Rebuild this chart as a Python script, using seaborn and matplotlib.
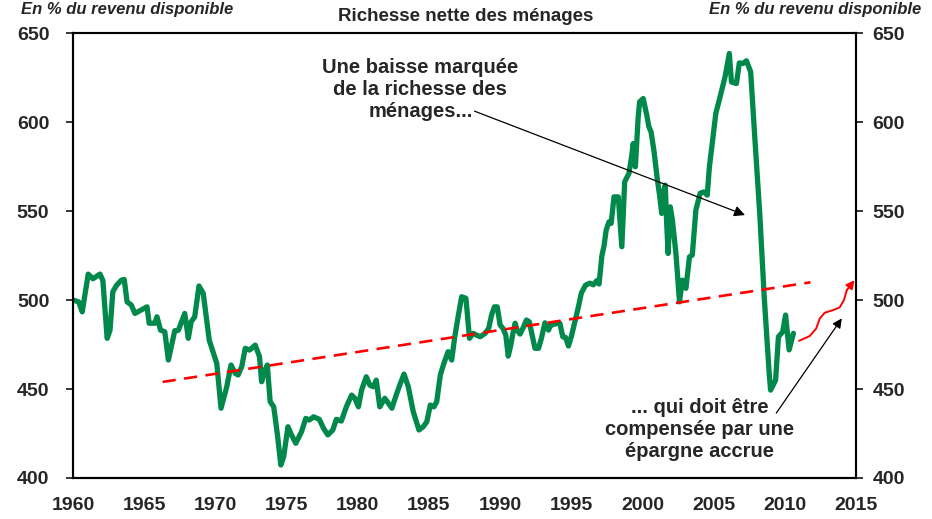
import matplotlib
matplotlib.use("Agg")
import matplotlib.pyplot as plt
import numpy as np
import pandas as pd
import seaborn as sns

# Household net wealth, % of disposable income
years = [
    1960.0, 1960.4, 1960.65, 1961.07, 1961.4, 1961.9, 1962.1, 1962.4, 1962.6, 1962.8,
    1963.07, 1963.4, 1963.6, 1963.8, 1964.1, 1964.35, 1965.2, 1965.35, 1965.75, 1965.9,
    1966.15, 1966.45, 1966.7, 1967.15, 1967.4, 1967.85, 1968.1, 1968.3, 1968.55, 1968.85,
    1969.15, 1969.57, 1970.1, 1970.4, 1970.8, 1971.1, 1971.4, 1971.6, 1971.85, 1972.1,
    1972.4, 1972.8, 1973.1, 1973.25, 1973.45, 1973.65, 1973.85, 1974.1, 1974.35, 1974.6,
    1974.8, 1975.1, 1975.35, 1975.65, 1976.05, 1976.35, 1976.6, 1976.9, 1977.3, 1977.6,
    1977.9, 1978.25, 1978.5, 1978.85, 1979.2, 1979.57, 1979.8, 1980.05, 1980.27, 1980.6,
    1980.85, 1981.1, 1981.3, 1981.55, 1981.9, 1982.4, 1982.7, 1982.95, 1983.25, 1983.55,
    1983.9, 1984.3, 1984.6, 1984.85, 1985.1, 1985.35, 1985.55, 1985.8, 1986.05, 1986.35,
    1986.6, 1986.8, 1987.05, 1987.3, 1987.6, 1987.85, 1988.1, 1988.35, 1988.6, 1988.95,
    1989.2, 1989.4, 1989.6, 1989.8, 1990.0, 1990.2, 1990.4, 1990.57, 1990.75, 1990.9,
    1991.05, 1991.2, 1991.4, 1991.6, 1991.85, 1992.05, 1992.3, 1992.45, 1992.7, 1992.9,
    1993.15, 1993.4, 1993.55, 1993.75, 1994.0, 1994.2, 1994.4, 1994.6, 1994.8, 1995.0,
    1995.25, 1995.5, 1995.7, 1996.0, 1996.3, 1996.55, 1996.8, 1996.95, 1997.15, 1997.3,
    1997.45, 1997.65, 1997.8, 1998.0, 1998.3, 1998.55, 1998.75, 1999.05, 1999.25, 1999.35,
    1999.5, 1999.7, 1999.8, 2000.05, 2000.3, 2000.45, 2000.6, 2000.8, 2001.05, 2001.2,
    2001.35, 2001.45, 2001.6, 2001.7, 2001.8, 2001.95, 2002.1, 2002.35, 2002.6, 2002.8,
    2003.05, 2003.3, 2003.5, 2003.75, 2004.05, 2004.3, 2004.55, 2004.7, 2004.9, 2005.15,
    2005.45, 2005.8, 2006.1, 2006.25, 2006.6, 2006.8, 2007.05, 2007.3, 2007.6, 2007.9,
    2008.25, 2008.55, 2008.9, 2009.0, 2009.35, 2009.55, 2009.85, 2010.05, 2010.3, 2010.6,
]
wealth = [
    500.0, 499.0, 493.4, 514.6, 512.0, 514.6, 511.0, 478.5, 483.0, 504.7,
    508.4, 511.2, 511.6, 499.0, 497.2, 492.5, 496.2, 487.0, 487.0, 490.6,
    483.1, 482.2, 466.3, 482.8, 483.0, 492.5, 478.5, 487.8, 490.6, 507.9,
    503.8, 477.5, 464.4, 439.2, 451.3, 463.5, 458.8, 457.9, 462.5, 472.9,
    471.9, 474.7, 468.2, 454.1, 460.0, 463.5, 442.9, 440.0, 425.0, 407.3,
    412.0, 428.8, 424.2, 419.5, 426.0, 433.5, 432.6, 434.4, 433.0, 427.9,
    424.2, 427.0, 433.0, 432.0, 440.0, 446.6, 444.8, 440.0, 449.4, 456.9,
    452.2, 451.3, 455.0, 440.0, 444.8, 439.2, 446.6, 452.2, 458.4, 451.3,
    437.3, 427.0, 428.8, 431.6, 441.0, 440.0, 442.9, 457.9, 464.4, 471.0,
    466.3, 478.5, 490.6, 501.9, 501.0, 478.5, 481.3, 480.3, 479.4, 481.3,
    484.1, 491.6, 496.2, 496.2, 486.0, 484.1, 480.3, 468.5, 474.7, 481.3,
    487.0, 483.1, 480.9, 484.1, 488.8, 487.8, 478.5, 472.9, 472.9, 478.5,
    487.2, 483.1, 486.0, 486.3, 486.9, 486.9, 479.4, 479.0, 474.2, 479.4,
    487.8, 496.2, 503.8, 508.4, 509.5, 508.6, 511.0, 509.0, 525.0, 530.5,
    539.3, 544.0, 543.1, 558.0, 558.0, 530.0, 566.5, 571.2, 581.5, 588.0,
    574.9, 603.0, 611.4, 613.3, 604.0, 597.4, 594.6, 584.3, 567.4, 559.0,
    548.7, 560.0, 564.6, 543.1, 526.2, 552.4, 545.0, 526.2, 499.0, 511.2,
    506.6, 524.3, 525.3, 550.6, 560.0, 560.8, 559.0, 574.9, 588.0, 604.9,
    614.2, 625.5, 638.6, 622.6, 621.7, 633.3, 633.0, 634.5, 628.3, 590.0,
    546.8, 501.9, 458.8, 449.4, 455.0, 479.4, 482.2, 491.6, 472.0, 481.3,
]

# long-run trend (dashed red)
trend_years = [1966.3, 2011.8]
trend_values = [454.0, 510.0]

# hand-drawn projection (thin red, with arrow head)
proj_years = [2011.0, 2011.75, 2012.2, 2012.45, 2012.8, 2013.4, 2013.85, 2014.15, 2014.35]
proj_values = [477.1, 479.8, 484.0, 489.6, 492.9, 494.4, 495.9, 500.0, 505.6]
proj_tip = (2014.9, 511.2)

x_ticks = list(range(1960, 2016, 5))
y_ticks = [400, 450, 500, 550, 600, 650]

title = "Richesse nette des ménages"
unit_label = "En % du revenu disponible"
note_drop = "Une baisse marquée\nde la richesse des\nménages..."
note_saving = "... qui doit être\ncompensée par une\népargne accrue"

GREEN = "#00894B"
RED = "#FF0000"

sns.set_style("white")
plt.rcParams["font.family"] = ["Liberation Sans", "DejaVu Sans"]
plt.rcParams["font.weight"] = "bold"

fig = plt.figure(figsize=(9.32, 5.19), dpi=100)
ax = fig.add_axes([0.0783, 0.079, 0.8402, 0.857])

df = pd.DataFrame({"year": years, "wealth": wealth})
sns.lineplot(data=df, x="year", y="wealth", ax=ax, color=GREEN, linewidth=3.8,
             sort=False, estimator=None)

sns.lineplot(x=trend_years, y=trend_values, ax=ax, color=RED, linewidth=1.9,
             estimator=None, dashes=False)
ax.lines[-1].set_dashes([5, 3.2])

sns.lineplot(x=proj_years, y=proj_values, ax=ax, color=RED, linewidth=1.4,
             estimator=None, sort=False)
ax.annotate("", xy=proj_tip, xytext=(proj_years[-1], proj_values[-1]),
            arrowprops=dict(arrowstyle="-|>", color=RED, lw=1.4, mutation_scale=12,
                            shrinkA=0, shrinkB=0))

# comments and their black arrows
ax.text(1984.4, 618.5, note_drop, ha="center", va="center", fontsize=14.5,
        fontweight="bold", linespacing=1.2)
ax.annotate("", xy=(2007.2, 547.8), xytext=(1988.2, 606.2),
            arrowprops=dict(arrowstyle="-|>", color="black", lw=0.9, mutation_scale=16,
                            shrinkA=0, shrinkB=0))
ax.text(2004.0, 427.5, note_saving, ha="center", va="center", fontsize=14.5,
        fontweight="bold", linespacing=1.2)
ax.annotate("", xy=(2014.0, 489.7), xytext=(2009.4, 436.5),
            arrowprops=dict(arrowstyle="-|>", color="black", lw=0.9, mutation_scale=14,
                            shrinkA=0, shrinkB=0))

ax.set_xlim(1960, 2015)
ax.set_ylim(400, 650)
ax.set_xticks(x_ticks)
ax.set_yticks(y_ticks)
ax.set_xlabel("")
ax.set_ylabel("")
ax.tick_params(axis="x", length=0, pad=14, labelsize=14)
ax.tick_params(axis="y", direction="out", length=5, width=1.3, pad=12, labelsize=14,
               left=True)
for lab in ax.get_xticklabels() + ax.get_yticklabels():
    lab.set_fontweight("bold")

ax2 = ax.twinx()
ax2.set_ylim(400, 650)
ax2.set_yticks(y_ticks)
ax2.tick_params(axis="y", direction="out", length=5, width=1.3, pad=7, labelsize=14,
                right=True)
for lab in ax2.get_yticklabels():
    lab.set_fontweight("bold")

for a in (ax, ax2):
    for side, sp in a.spines.items():
        sp.set_color("black")
        sp.set_linewidth(1.5)
ax.spines["top"].set_color("#333333")

fig.text(0.5, 0.968, title, ha="center", va="center", fontsize=13.5, fontweight="bold")
fig.text(0.022, 0.997, unit_label, ha="left", va="top", fontsize=12,
         fontweight="bold", style="italic")
fig.text(0.988, 0.997, unit_label, ha="right", va="top", fontsize=12,
         fontweight="bold", style="italic")

fig.savefig("out.png", dpi=100)
